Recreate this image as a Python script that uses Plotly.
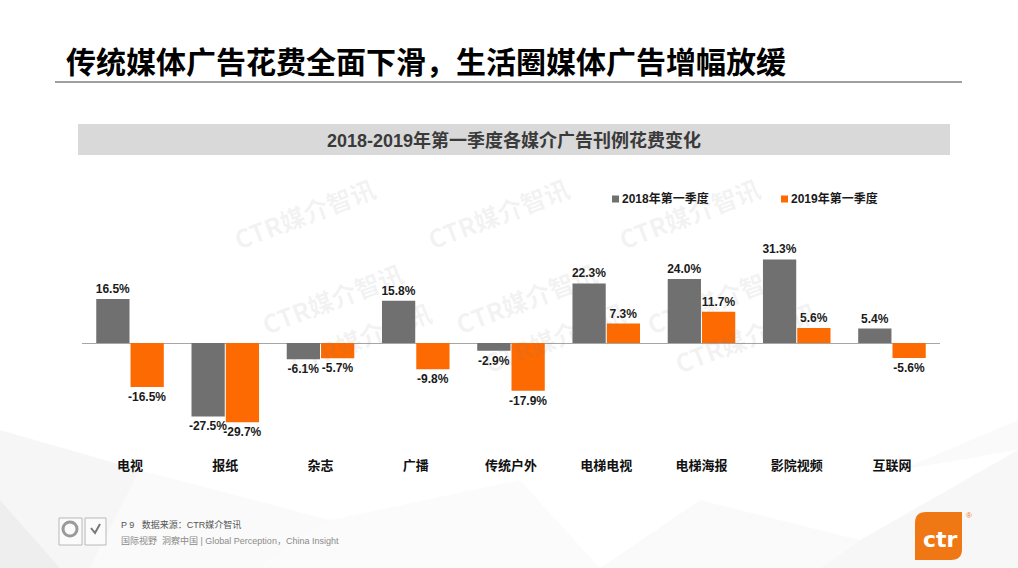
import plotly.graph_objects as go

W, H = 1018, 568

categories = ["电视", "报纸", "杂志", "广播", "传统户外", "电梯电视", "电梯海报", "影院视频", "互联网"]
series_names = ["2018年第一季度", "2019年第一季度"]
values_2018 = [16.5, -27.5, -6.1, 15.8, -2.9, 22.3, 24.0, 31.3, 5.4]
values_2019 = [-16.5, -29.7, -5.7, -9.8, -17.9, 7.3, 11.7, 5.6, -5.6]

GRAY = "#707070"
ORANGE = "#fd6a02"
FONT = "Liberation Sans, Noto Sans CJK SC, sans-serif"
CJK = "Noto Sans CJK SC, Liberation Sans, sans-serif"


def px(x):
    return x / W


def py(y):
    return 1 - y / H


fig = go.Figure()
for name, vals, col in [(series_names[0], values_2018, GRAY), (series_names[1], values_2019, ORANGE)]:
    fig.add_trace(go.Bar(
        x=categories, y=vals, name=name, marker=dict(color=col, line=dict(width=0)),
        texttemplate="%{y:.1f}%", textposition="outside", constraintext="none",
        textfont=dict(family=FONT, size=12, color="#1a1a1a", weight="bold"),
        cliponaxis=False, hoverinfo="skip",
    ))

shapes = []
# faint low-poly background at bottom
polys = [
    [(0, 430), (140, 470), (90, 568), (0, 568)],
    [(0, 500), (60, 568), (0, 568)],
    [(140, 470), (330, 520), (260, 568), (90, 568)],
    [(330, 520), (520, 480), (600, 568), (260, 568)],
    [(600, 568), (700, 500), (860, 540), (820, 568)],
    [(860, 540), (1018, 450), (1018, 568), (820, 568)],
    [(900, 470), (1018, 420), (1018, 450)],
]
fills = ["rgba(0,0,0,0.035)", "rgba(0,0,0,0.03)", "rgba(0,0,0,0.02)", "rgba(0,0,0,0.015)",
         "rgba(0,0,0,0.02)", "rgba(0,0,0,0.03)", "rgba(0,0,0,0.02)"]
for pts, fc in zip(polys, fills):
    path = "M " + " L ".join(f"{px(x):.4f},{py(y):.4f}" for x, y in pts) + " Z"
    shapes.append(dict(type="path", path=path, xref="paper", yref="paper",
                       fillcolor=fc, line=dict(width=0), layer="below"))

# title underline
shapes.append(dict(type="line", xref="paper", yref="paper", x0=px(55), x1=px(962), y0=py(82), y1=py(82),
                   line=dict(color="#7f7f7f", width=1.3)))
# subtitle band
shapes.append(dict(type="rect", xref="paper", yref="paper", x0=px(78), x1=px(950), y0=py(124), y1=py(155),
                   fillcolor="#d9d9d9", line=dict(width=0), layer="below"))
# legend squares
shapes.append(dict(type="rect", xref="paper", yref="paper", x0=px(612), x1=px(619), y0=py(195.5), y1=py(202.5),
                   fillcolor=GRAY, line=dict(width=0)))
shapes.append(dict(type="rect", xref="paper", yref="paper", x0=px(781), x1=px(788), y0=py(195.5), y1=py(202.5),
                   fillcolor=ORANGE, line=dict(width=0)))
# footer certification icons
for x0, x1 in [(59, 82), (85, 106)]:
    shapes.append(dict(type="rect", xref="paper", yref="paper", x0=px(x0), x1=px(x1), y0=py(518), y1=py(545),
                       fillcolor="rgba(255,255,255,0.6)", line=dict(color="#b8b8b8", width=1)))
shapes.append(dict(type="circle", xref="paper", yref="paper", x0=px(63), x1=px(77), y0=py(522), y1=py(536),
                   line=dict(color="#9a9a9a", width=3)))
shapes.append(dict(type="path", xref="paper", yref="paper",
                   path=f"M {px(91)},{py(528)} L {px(95)},{py(533)} L {px(100)},{py(524)}",
                   line=dict(color="#777777", width=2)))
# ctr logo
lx0, lx1, ly0, ly1, r = 915, 962, 512, 560, 11
logo = (f"M {px(lx0 + r)},{py(ly0)} L {px(lx1)},{py(ly0)} L {px(lx1)},{py(ly1 - r)} "
        f"Q {px(lx1)},{py(ly1)} {px(lx1 - r)},{py(ly1)} L {px(lx0)},{py(ly1)} L {px(lx0)},{py(ly0 + r)} "
        f"Q {px(lx0)},{py(ly0)} {px(lx0 + r)},{py(ly0)} Z")
shapes.append(dict(type="path", path=logo, xref="paper", yref="paper", fillcolor="#f07814", line=dict(width=0)))

annotations = []
# watermarks
wm_rows = [213, 298, 383]
wm_cols = [226, 498, 768]
for i, yy in enumerate(wm_rows):
    for xx in wm_cols:
        annotations.append(dict(text="CTR媒介智讯", x=px(xx + 28 * i), y=py(yy), xref="paper", yref="paper",
                                showarrow=False, textangle=-21,
                                font=dict(family=CJK, size=25, color="rgba(120,120,120,0.09)", weight="bold")))

annotations += [
    dict(text="传统媒体广告花费全面下滑，生活圈媒体广告增幅放缓", x=px(64), y=py(60), xref="paper", yref="paper",
         xanchor="left", yanchor="middle", showarrow=False,
         font=dict(family=CJK, size=30, color="#000000", weight="bold")),
    dict(text="2018-2019年第一季度各媒介广告刊例花费变化", x=px(514), y=py(140), xref="paper", yref="paper",
         xanchor="center", yanchor="middle", showarrow=False,
         font=dict(family=FONT, size=18, color="#3a3a3a", weight="bold")),
    dict(text=series_names[0], x=px(620), y=py(199), xref="paper", yref="paper", xanchor="left", yanchor="middle",
         showarrow=False, font=dict(family=FONT, size=12, color="#1a1a1a", weight="bold")),
    dict(text=series_names[1], x=px(789), y=py(199), xref="paper", yref="paper", xanchor="left", yanchor="middle",
         showarrow=False, font=dict(family=FONT, size=12, color="#1a1a1a", weight="bold")),
    dict(text="P 9   数据来源：CTR媒介智讯", x=px(119), y=py(524), xref="paper", yref="paper", xanchor="left",
         yanchor="middle", showarrow=False, font=dict(family=FONT, size=9, color="#555555")),
    dict(text="国际视野  洞察中国 | Global Perception，China Insight", x=px(119), y=py(540), xref="paper",
         yref="paper", xanchor="left", yanchor="middle", showarrow=False,
         font=dict(family=FONT, size=9, color="#8a8a8a")),
    dict(text="ctr", x=px(940), y=py(539), xref="paper", yref="paper", xanchor="center", yanchor="middle",
         showarrow=False, font=dict(family="DejaVu Sans, sans-serif", size=22, color="#ffffff", weight="bold")),
    dict(text="®", x=px(969), y=py(515), xref="paper", yref="paper", xanchor="center", yanchor="middle",
         showarrow=False, font=dict(family=FONT, size=8, color="#f07814")),
]

fig.update_layout(
    width=W, height=H, autosize=False,
    margin=dict(l=0, r=0, t=0, b=0),
    paper_bgcolor="#ffffff", plot_bgcolor="rgba(0,0,0,0)",
    barmode="group", bargap=0.28, bargroupgap=0.03,
    showlegend=False,
    shapes=shapes, annotations=annotations,
    xaxis=dict(domain=[px(82.4), px(939.6)], showline=False, ticks="", showgrid=False,
               tickfont=dict(family=CJK, size=13, color="#111111", weight="bold"), fixedrange=True),
    yaxis=dict(domain=[py(456), py(230)], range=[-42.3, 42.3], showgrid=False, showticklabels=False,
               zeroline=True, zerolinecolor="#a6a6a6", zerolinewidth=1, ticks="", fixedrange=True),
)

fig.write_html("out.html", config={"displayModeBar": False},
               post_script="document.body.style.margin='0';document.body.style.overflow='hidden';")
